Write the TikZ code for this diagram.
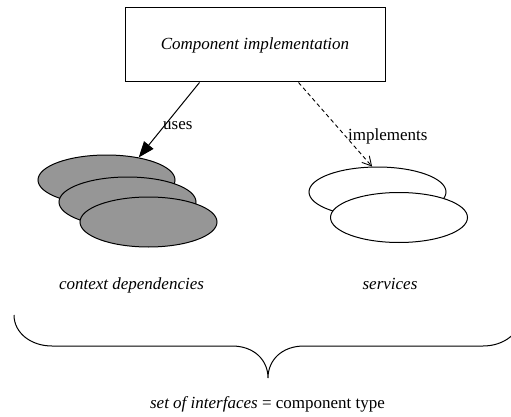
\documentclass[tikz,border=0pt]{standalone}
\usepackage{fontspec}
\setmainfont{Liberation Serif}
\usetikzlibrary{arrows.meta,shapes.geometric}
\definecolor{ifacegrey}{RGB}{150,150,150}
\tikzset{
  lbl/.style={inner sep=0pt, font=\fontsize{17}{20}\selectfont},
  implbox/.style={draw, line width=1pt, minimum width=260pt, minimum height=74pt,
                  inner sep=0pt, font=\fontsize{17}{20}\selectfont\itshape},
  iface/.style={ellipse, draw, line width=1pt, inner sep=0pt,
                minimum width=137pt, minimum height=50pt},
  required/.style={iface, fill=ifacegrey},
  provided/.style={iface, fill=white},
  usesarrow/.style={line width=1pt, -{Triangle[length=16pt,width=12pt]}},
  implarrow/.style={line width=0.9pt, dash pattern=on 4pt off 3pt,
                    -{Straight Barb[length=9pt,width=10pt]}},
  brace/.style={line width=1pt}
}
\begin{document}
\begin{tikzpicture}[x=1pt, y=-1pt]
  \useasboundingbox (0,0) rectangle (511,417);

  % implementation box
  \node[implbox] (impl) at (255,45) {Component implementation};

  % context dependencies (required interfaces)
  \node[required] (e1) at (106.5,180) {};
  \node[required] (e2) at (127.5,202) {};
  \node[required] (e3) at (148.5,222) {};

  % services (provided interfaces)
  \node[provided] (w1) at (377.5,192) {};
  \node[provided] (w2) at (399,217.5) {};

  % relations
  \draw[usesarrow] ([xshift=75pt]impl.south west) -- (e1.35);
  \draw[implarrow] ([xshift=-87pt]impl.south east) -- (w1.102);
  \node[lbl, anchor=base west] (uses) at (163,129) {uses};
  \node[lbl, anchor=base west] (impls) at (348,140) {implements};

  % captions
  \node[lbl, anchor=base, font=\fontsize{17}{20}\selectfont\itshape] (ctx) at (131.5,289) {context dependencies};
  \node[lbl, anchor=base, font=\fontsize{17}{20}\selectfont\itshape] (srv) at (390,289) {services};

  % brace grouping both sets
  \draw[brace] (14,315) .. controls (14,333) and (31,346) .. (52,346)
    -- (232,346) .. controls (254,346) and (268,360) .. (268,378)
    .. controls (268,360) and (282,346) .. (304,346)
    -- (483,346) .. controls (504,346) and (521,333) .. (521,315);

  \node[lbl, anchor=base] (sum) at (267.5,408) {\textit{set of interfaces} = component type};
\end{tikzpicture}
\end{document}
